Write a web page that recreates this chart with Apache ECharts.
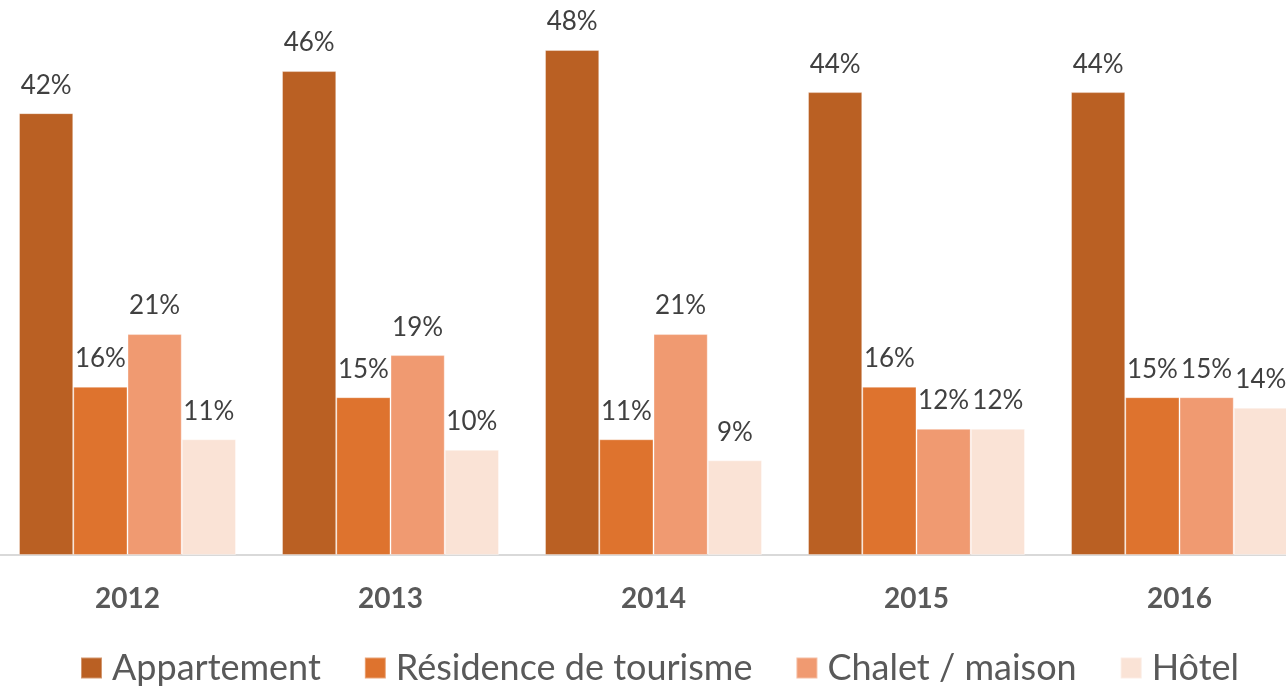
<!DOCTYPE html>
<html>
<head>
<meta charset="utf-8">
<title>chart</title>
<script src="https://cdn.jsdelivr.net/npm/echarts@6/dist/echarts.min.js"></script>
<style>html,body{margin:0;padding:0;background:#fff}</style>
</head>
<body>
<div id="x" style="width:1286px;height:691px"></div>
<script type="text/javascript">
var years = ['2012', '2013', '2014', '2015', '2016'];
var appartement = [42, 46, 48, 44, 44];
var residence = [16, 15, 11, 16, 15];
var chalet = [21, 19, 21, 12, 15];
var hotel = [11, 10, 9, 12, 14];

var names = ['Appartement', 'Résidence de tourisme', 'Chalet / maison', 'Hôtel'];
var colors = ['#BA6023', '#DE732E', '#F09A71', '#FAE3D6'];
var values = [appartement, residence, chalet, hotel];

var series = [];
for (var i = 0; i < values.length; i++) {
	series.push({
		name: names[i],
		type: 'bar',
		barGap: '0%',
		barCategoryGap: '17.5%',
		data: values[i],
		itemStyle: { color: colors[i], borderColor: 'rgba(255,255,255,0.35)', borderWidth: 1 },
		label: {
			show: true,
			position: 'top',
			distance: 15,
			formatter: '{c}%',
			color: '#404040',
			fontSize: 26,
			fontFamily: 'Lato'
		}
	});
}

var option = {
	backgroundColor: '#fff',
	animation: false,
	color: colors,
	grid: { left: -4, right: -25, top: 29, bottom: 136, outerBoundsMode: 'none' },
	legend: {
		bottom: 0,
		left: 75,
		itemWidth: 21,
		itemHeight: 21,
		itemGap: 43,
		icon: 'rect',
		textStyle: { color: '#595959', fontSize: 36, fontFamily: 'Lato', padding: [0, 0, 0, 5] },
		data: names
	},
	xAxis: {
		type: 'category',
		data: years,
		axisLine: { lineStyle: { color: '#D9D9D9', width: 2 } },
		axisTick: { show: false },
		axisLabel: { color: '#595959', fontSize: 28, fontWeight: 'bold', fontFamily: 'Lato', margin: 30 }
	},
	yAxis: {
		type: 'value',
		min: 0,
		max: 50,
		show: false,
		splitLine: { show: false }
	},
	series: series
};

var chart = echarts.init(document.getElementById('x'));
chart.setOption(option);
</script>
</body>
</html>
